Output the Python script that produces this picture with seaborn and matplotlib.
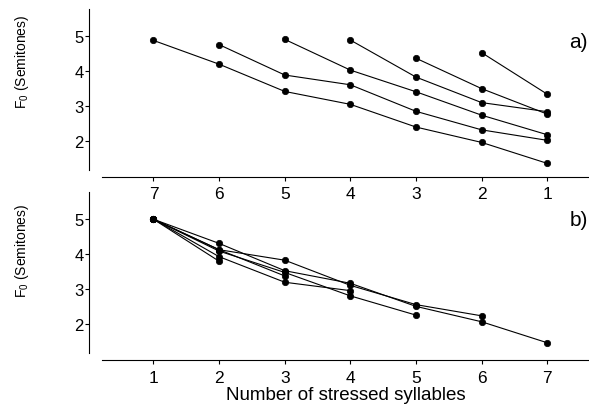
import numpy as np
import pandas as pd
import matplotlib
matplotlib.use("Agg")
import matplotlib.pyplot as plt
import seaborn as sns
from matplotlib import font_manager

# a) F0 of stressed syllables, aligned to the end of the phrase (7 ... 1)
top_x = {
    "7": [7, 6, 5, 4, 3, 2, 1],
    "6": [6, 5, 4, 3, 2, 1],
    "5": [5, 4, 3, 2, 1],
    "4": [4, 3, 2, 1],
    "3": [3, 2, 1],
    "2": [2, 1],
}
top_f0 = {
    "7": [4.87, 4.19, 3.41, 3.04, 2.39, 1.95, 1.35],
    "6": [4.75, 3.88, 3.60, 2.84, 2.31, 2.01],
    "5": [4.90, 4.02, 3.40, 2.73, 2.17],
    "4": [4.88, 3.82, 3.09, 2.83],
    "3": [4.36, 3.49, 2.76],
    "2": [4.52, 3.33],
}

# b) same contours aligned to the first stressed syllable
bottom_x = {
    "7": [1, 2, 3, 4, 5, 6, 7],
    "6": [1, 2, 3, 4, 5, 6],
    "5": [1, 2, 3, 4, 5],
    "4": [1, 2, 3, 4],
    "3": [1, 2, 3],
    "2": [1, 2],
}
bottom_f0 = {
    "7": [5.0, 4.31, 3.53, 3.17, 2.51, 2.07, 1.47],
    "6": [5.0, 4.13, 3.83, 3.11, 2.56, 2.24],
    "5": [5.0, 4.09, 3.48, 2.81, 2.26],
    "4": [5.0, 3.93, 3.20, 2.96],
    "3": [5.0, 4.13, 3.38],
    "2": [5.0, 3.80],
}

ticks = [1, 2, 3, 4, 5, 6, 7]
yticks = [2, 3, 4, 5]


def to_long(xs, ys):
    rows = []
    for key in xs:
        for x, y in zip(xs[key], ys[key]):
            rows.append({"series": key, "pos": x, "f0": y})
    return pd.DataFrame(rows)


sns.set_theme(style="ticks")
plt.rcParams["font.family"] = ["Liberation Sans", "DejaVu Sans"]
plt.rcParams["mathtext.fontset"] = "custom"
plt.rcParams["mathtext.rm"] = "Liberation Sans"
plt.rcParams["mathtext.it"] = "Liberation Sans:italic"
for key in ["text.color", "axes.labelcolor", "xtick.color", "ytick.color",
            "axes.edgecolor"]:
    plt.rcParams[key] = "black"

# the y label in the original is set in a narrow face
names = {f.name for f in font_manager.fontManager.ttflist}
narrow = "Liberation Sans Narrow" in names
ylab_size = 11.5 if narrow else 10
ylab_family = ["Liberation Sans Narrow"] if narrow else ["Liberation Sans"]

fig = plt.figure(figsize=(5.89, 4.10), dpi=100)
ax1 = fig.add_axes([0.173, 0.5837, 0.827, 0.3919])
ax2 = fig.add_axes([0.173, 0.1359, 0.827, 0.3926])

panels = [
    (ax1, to_long(top_x, top_f0), (7.786, 0.365), 0.68),
    (ax2, to_long(bottom_x, bottom_f0), (0.214, 7.635), 0.64),
]

for ax, df, xlim, label_y in panels:
    sns.lineplot(data=df, x="pos", y="f0", hue="series", units="series",
                 estimator=None, palette=["black"] * 6, marker="o",
                 markersize=4.6, markeredgecolor="black", markeredgewidth=0.5,
                 linewidth=0.8, legend=False, ax=ax)
    ax.set_xlim(*xlim)
    ax.set_ylim(1.17, 5.77)
    ax.set_xticks(ticks)
    ax.set_yticks(yticks)
    ax.tick_params(axis="x", labelsize=12.5, length=3, width=0.8, pad=4)
    ax.tick_params(axis="y", labelsize=12, length=3, width=0.8, pad=1)
    sns.despine(ax=ax)
    ax.spines["left"].set_position(("outward", 9))
    ax.spines["bottom"].set_position(("outward", 5))
    ax.spines["left"].set_linewidth(0.8)
    ax.spines["bottom"].set_linewidth(0.8)
    ax.set_xlabel("")
    ax.set_ylabel(r"F$_\mathrm{0}$ (Semitones)", fontsize=ylab_size,
                  family=ylab_family)
    ax.yaxis.set_label_coords(-0.164, label_y)
    ax.yaxis.label.set_verticalalignment("center")
    ax.patch.set_alpha(0)

ax2.set_xlabel("Number of stressed syllables", fontsize=13.5, labelpad=0.5)

fig.text(588 / 589, 1 - 42 / 410, "a)", ha="right", va="center", fontsize=15)
fig.text(588 / 589, 1 - 221 / 410, "b)", ha="right", va="center", fontsize=15)

fig.savefig("out.png", dpi=100)
